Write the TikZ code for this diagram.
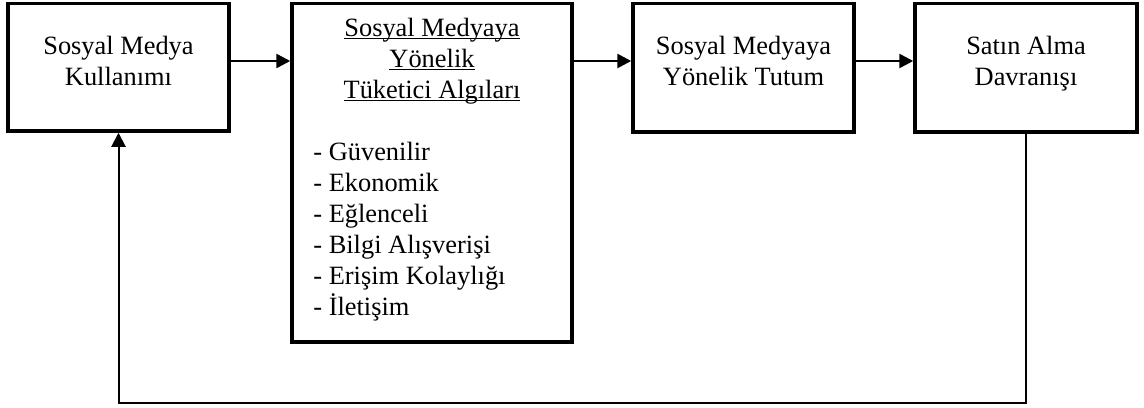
\documentclass[tikz,border=0pt]{standalone}
\usepackage{fontspec}
\setmainfont{Liberation Serif}
\usetikzlibrary{arrows.meta}

% underline set at a fixed depth below the baseline
\newcommand\ulword[1]{\setbox0\hbox{#1}\rlap{\rule[-1.6pt]{\wd0}{0.85pt}}\box0}

\tikzset{
  box/.style={draw=black, line width=1.75pt, rectangle, inner sep=0pt},
  txt/.style={font=\fontsize{13.2pt}{15.5pt}\selectfont, inner sep=0pt, align=center},
  flow/.style={line width=1.3pt, -{Triangle[length=7pt,width=7pt]}},
  back/.style={line width=1pt, -{Triangle[length=7pt,width=7pt]}}
}

\begin{document}
\begin{tikzpicture}[x=0.5pt, y=-0.5pt]
  \useasboundingbox (0,0) rectangle (1144,407);

  % boxes
  \node[box, minimum width=110.5pt, minimum height=63.75pt] (use)  at (118.5,67.25) {};
  \node[box, minimum width=140pt,   minimum height=169.25pt] (perc) at (432,172.75) {};
  \node[box, minimum width=110.5pt, minimum height=64.25pt] (att)  at (743.5,67.75) {};
  \node[box, minimum width=111pt,   minimum height=64.25pt] (buy)  at (1026,67.75) {};

  % box texts
  \node[txt, anchor=base] (usetxt) at (118.5,85) {Sosyal Medya\\Kullanımı};
  \node[txt, anchor=base] (perchead) at (432,98)
    {\ulword{Sosyal Medyaya}\\\ulword{Yönelik}\\\ulword{Tüketici Algıları}};
  \node[txt, align=left, anchor=base west] (perclist) at (313,315)
    {- Güvenilir\\- Ekonomik\\- Eğlenceli\\- Bilgi Alışverişi\\- Erişim Kolaylığı\\- İletişim};
  \node[txt, anchor=base] (atttxt) at (743.5,85) {Sosyal Medyaya\\Yönelik Tutum};
  \node[txt, anchor=base] (buytxt) at (1026,85) {Satın Alma\\Davranışı};

  % connectors
  \coordinate (row) at (0,61);
  \coordinate (base) at (0,403);
  \draw[flow] (use.east |- row) -- (perc.west |- row);
  \draw[flow] (perc.east |- row) -- (att.west |- row);
  \draw[flow] (att.east |- row) -- (buy.west |- row);
  \draw[back] (buy.south) |- (use.south |- base) -- (use.south);
\end{tikzpicture}
\end{document}
